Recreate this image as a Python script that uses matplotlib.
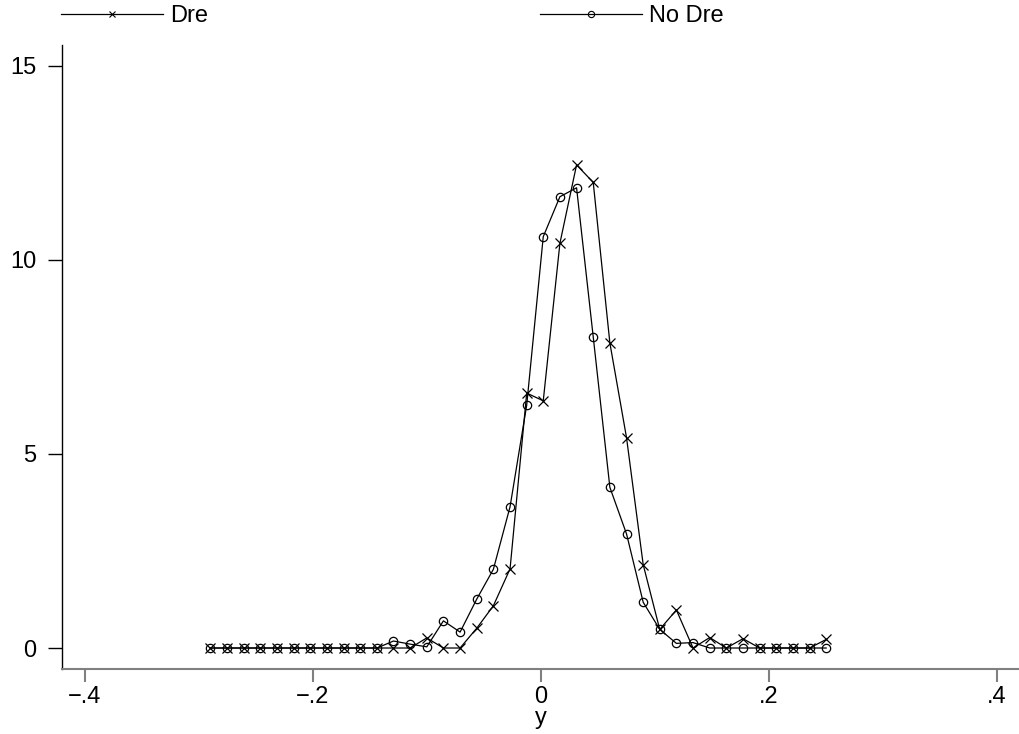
import matplotlib
matplotlib.use("Agg")
import matplotlib.pyplot as plt
from matplotlib.lines import Line2D

plt.rcParams['font.family'] = ['Liberation Sans', 'DejaVu Sans']

# Bin midpoints of y
y_bins = [-0.2896, -0.2750, -0.2604, -0.2458, -0.2313, -0.2167, -0.2021, -0.1875,
          -0.1729, -0.1583, -0.1437, -0.1292, -0.1146, -0.1000, -0.0854, -0.0708,
          -0.0562, -0.0416, -0.0270, -0.0124, 0.0021, 0.0167, 0.0313, 0.0459,
          0.0605, 0.0751, 0.0897, 0.1042, 0.1188, 0.1334, 0.1480, 0.1626,
          0.1772, 0.1918, 0.2063, 0.2209, 0.2355, 0.2501]

# Density, Dre group
dens_dre = [0, 0, 0, 0, 0, 0, 0, 0, 0, 0, 0, 0, 0, 0.26, 0, 0,
            0.51, 1.09, 2.04, 6.57, 6.37, 10.43, 12.45, 12.0,
            7.86, 5.42, 2.15, 0.48, 0.98, 0, 0.27, 0, 0.24, 0, 0, 0, 0, 0.22]

# Density, No Dre group
dens_nodre = [0, 0, 0, 0, 0, 0, 0, 0, 0, 0, 0, 0.18, 0.10, 0.03, 0.70, 0.41,
              1.26, 2.03, 3.64, 6.26, 10.60, 11.63, 11.86, 8.02,
              4.14, 2.94, 1.18, 0.48, 0.12, 0.14, 0, 0, 0, 0, 0, 0, 0, 0]

x_ticks = [-0.4, -0.2, 0, 0.2, 0.4]
x_ticklabels = ['\u2212.4', '\u2212.2', '0', '.2', '.4']
y_ticks = [0, 5, 10, 15]
y_ticklabels = ['0', '5', '10', '15']
series_names = ['Dre', 'No Dre']

fig = plt.figure(figsize=(10.2, 7.34), dpi=100)
ax = fig.add_axes([0.0605, 0.0886, 0.9395, 0.8501])

line_kw = dict(color='black', lw=0.9)
ax.plot(y_bins, dens_dre, marker='x', ms=7, mew=0.9, **line_kw)
ax.plot(y_bins, dens_nodre, marker='o', ms=6, mfc='none', mew=0.9, **line_kw)

ax.set_xlim(-0.42, 0.42)
ax.set_ylim(-0.54, 15.54)

ax.set_xticks(x_ticks)
ax.set_xticklabels(x_ticklabels)
ax.set_yticks(y_ticks)
ax.set_yticklabels(y_ticklabels)

for s in ['top', 'right']:
    ax.spines[s].set_visible(False)
ax.spines['left'].set_color('black')
ax.spines['left'].set_linewidth(1.0)
ax.spines['bottom'].set_color('#808080')
ax.spines['bottom'].set_linewidth(1.5)

ax.tick_params(axis='y', direction='out', length=10, width=1.0, color='black',
               pad=8, labelsize=17)
ax.tick_params(axis='x', direction='out', length=9.5, width=1.5, color='#808080',
               pad=3, labelsize=17)

ax.set_xlabel('y', fontsize=17, labelpad=-1)

# Legend entries above the plot area
h_dre = Line2D([], [], color='black', lw=0.9, marker='x', ms=4.5, mew=0.8)
h_nodre = Line2D([], [], color='black', lw=0.9, marker='o', ms=4.5, mfc='none', mew=0.8)

leg_kw = dict(frameon=False, fontsize=17, borderpad=0, borderaxespad=0,
              handlelength=4.3, handletextpad=0.33, numpoints=1, loc='center left')
fig.legend([h_dre], [series_names[0]], bbox_to_anchor=(61 / 1020, 1 - 16 / 734), **leg_kw)
fig.legend([h_nodre], [series_names[1]], bbox_to_anchor=(540 / 1020, 1 - 16 / 734), **leg_kw)

fig.savefig('out.png', dpi=100)
